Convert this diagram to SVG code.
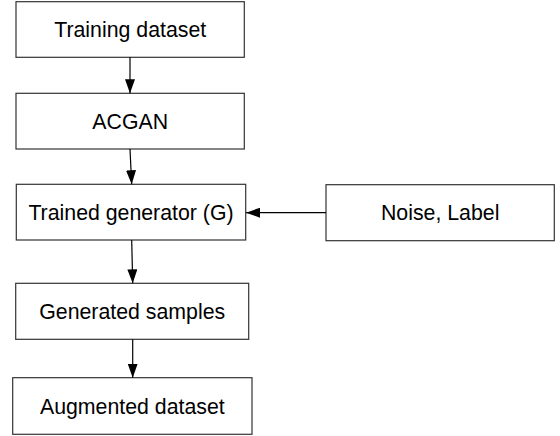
<svg xmlns="http://www.w3.org/2000/svg" width="560" height="436" viewBox="0 0 560 436">
<style>
.box{fill:#fff;stroke:#333;stroke-width:1.2}
.lbl{font-family:"Liberation Sans",Arial,sans-serif;font-size:21.3px;fill:#000;text-anchor:middle}
.edge{stroke:#000;stroke-width:1.2;fill:none}
</style>
<defs>
<marker id="ah" markerUnits="userSpaceOnUse" markerWidth="14" markerHeight="10" refX="14" refY="5" orient="auto">
<path d="M0,0 L14,5 L0,10 Z" fill="#000"/>
</marker>
</defs>
<rect width="560" height="436" fill="#fff"/>
<g id="n1"><rect class="box" x="16" y="1.7" width="228.3" height="55.6"/><text class="lbl" x="130.2" y="37.3">Training dataset</text></g>
<g id="n2"><rect class="box" x="16" y="93.3" width="228.3" height="55.7"/><text class="lbl" x="130.2" y="129">ACGAN</text></g>
<g id="n3"><rect class="box" x="16.3" y="184.3" width="229.4" height="55.7"/><text class="lbl" x="131" y="220">Trained generator (G)</text></g>
<g id="n4"><rect class="box" x="326" y="184.7" width="228.3" height="56"/><text class="lbl" x="440.2" y="220.4">Noise, Label</text></g>
<g id="n5"><rect class="box" x="15.7" y="283.3" width="233" height="56"/><text class="lbl" x="132.2" y="319">Generated samples</text></g>
<g id="n6"><rect class="box" x="12.7" y="377.7" width="239.3" height="56.6"/><text class="lbl" x="132.3" y="413.8">Augmented dataset</text></g>
<g id="edges">
<line class="edge" x1="130" y1="57.3" x2="130" y2="93.3" marker-end="url(#ah)"/>
<line class="edge" x1="130" y1="149" x2="131.7" y2="184.3" marker-end="url(#ah)"/>
<line class="edge" x1="131.7" y1="240" x2="132.7" y2="283.3" marker-end="url(#ah)"/>
<line class="edge" x1="132.7" y1="339.3" x2="132.7" y2="377.7" marker-end="url(#ah)"/>
<line class="edge" x1="326" y1="212.7" x2="246" y2="212.7" marker-end="url(#ah)"/>
</g>
</svg>
